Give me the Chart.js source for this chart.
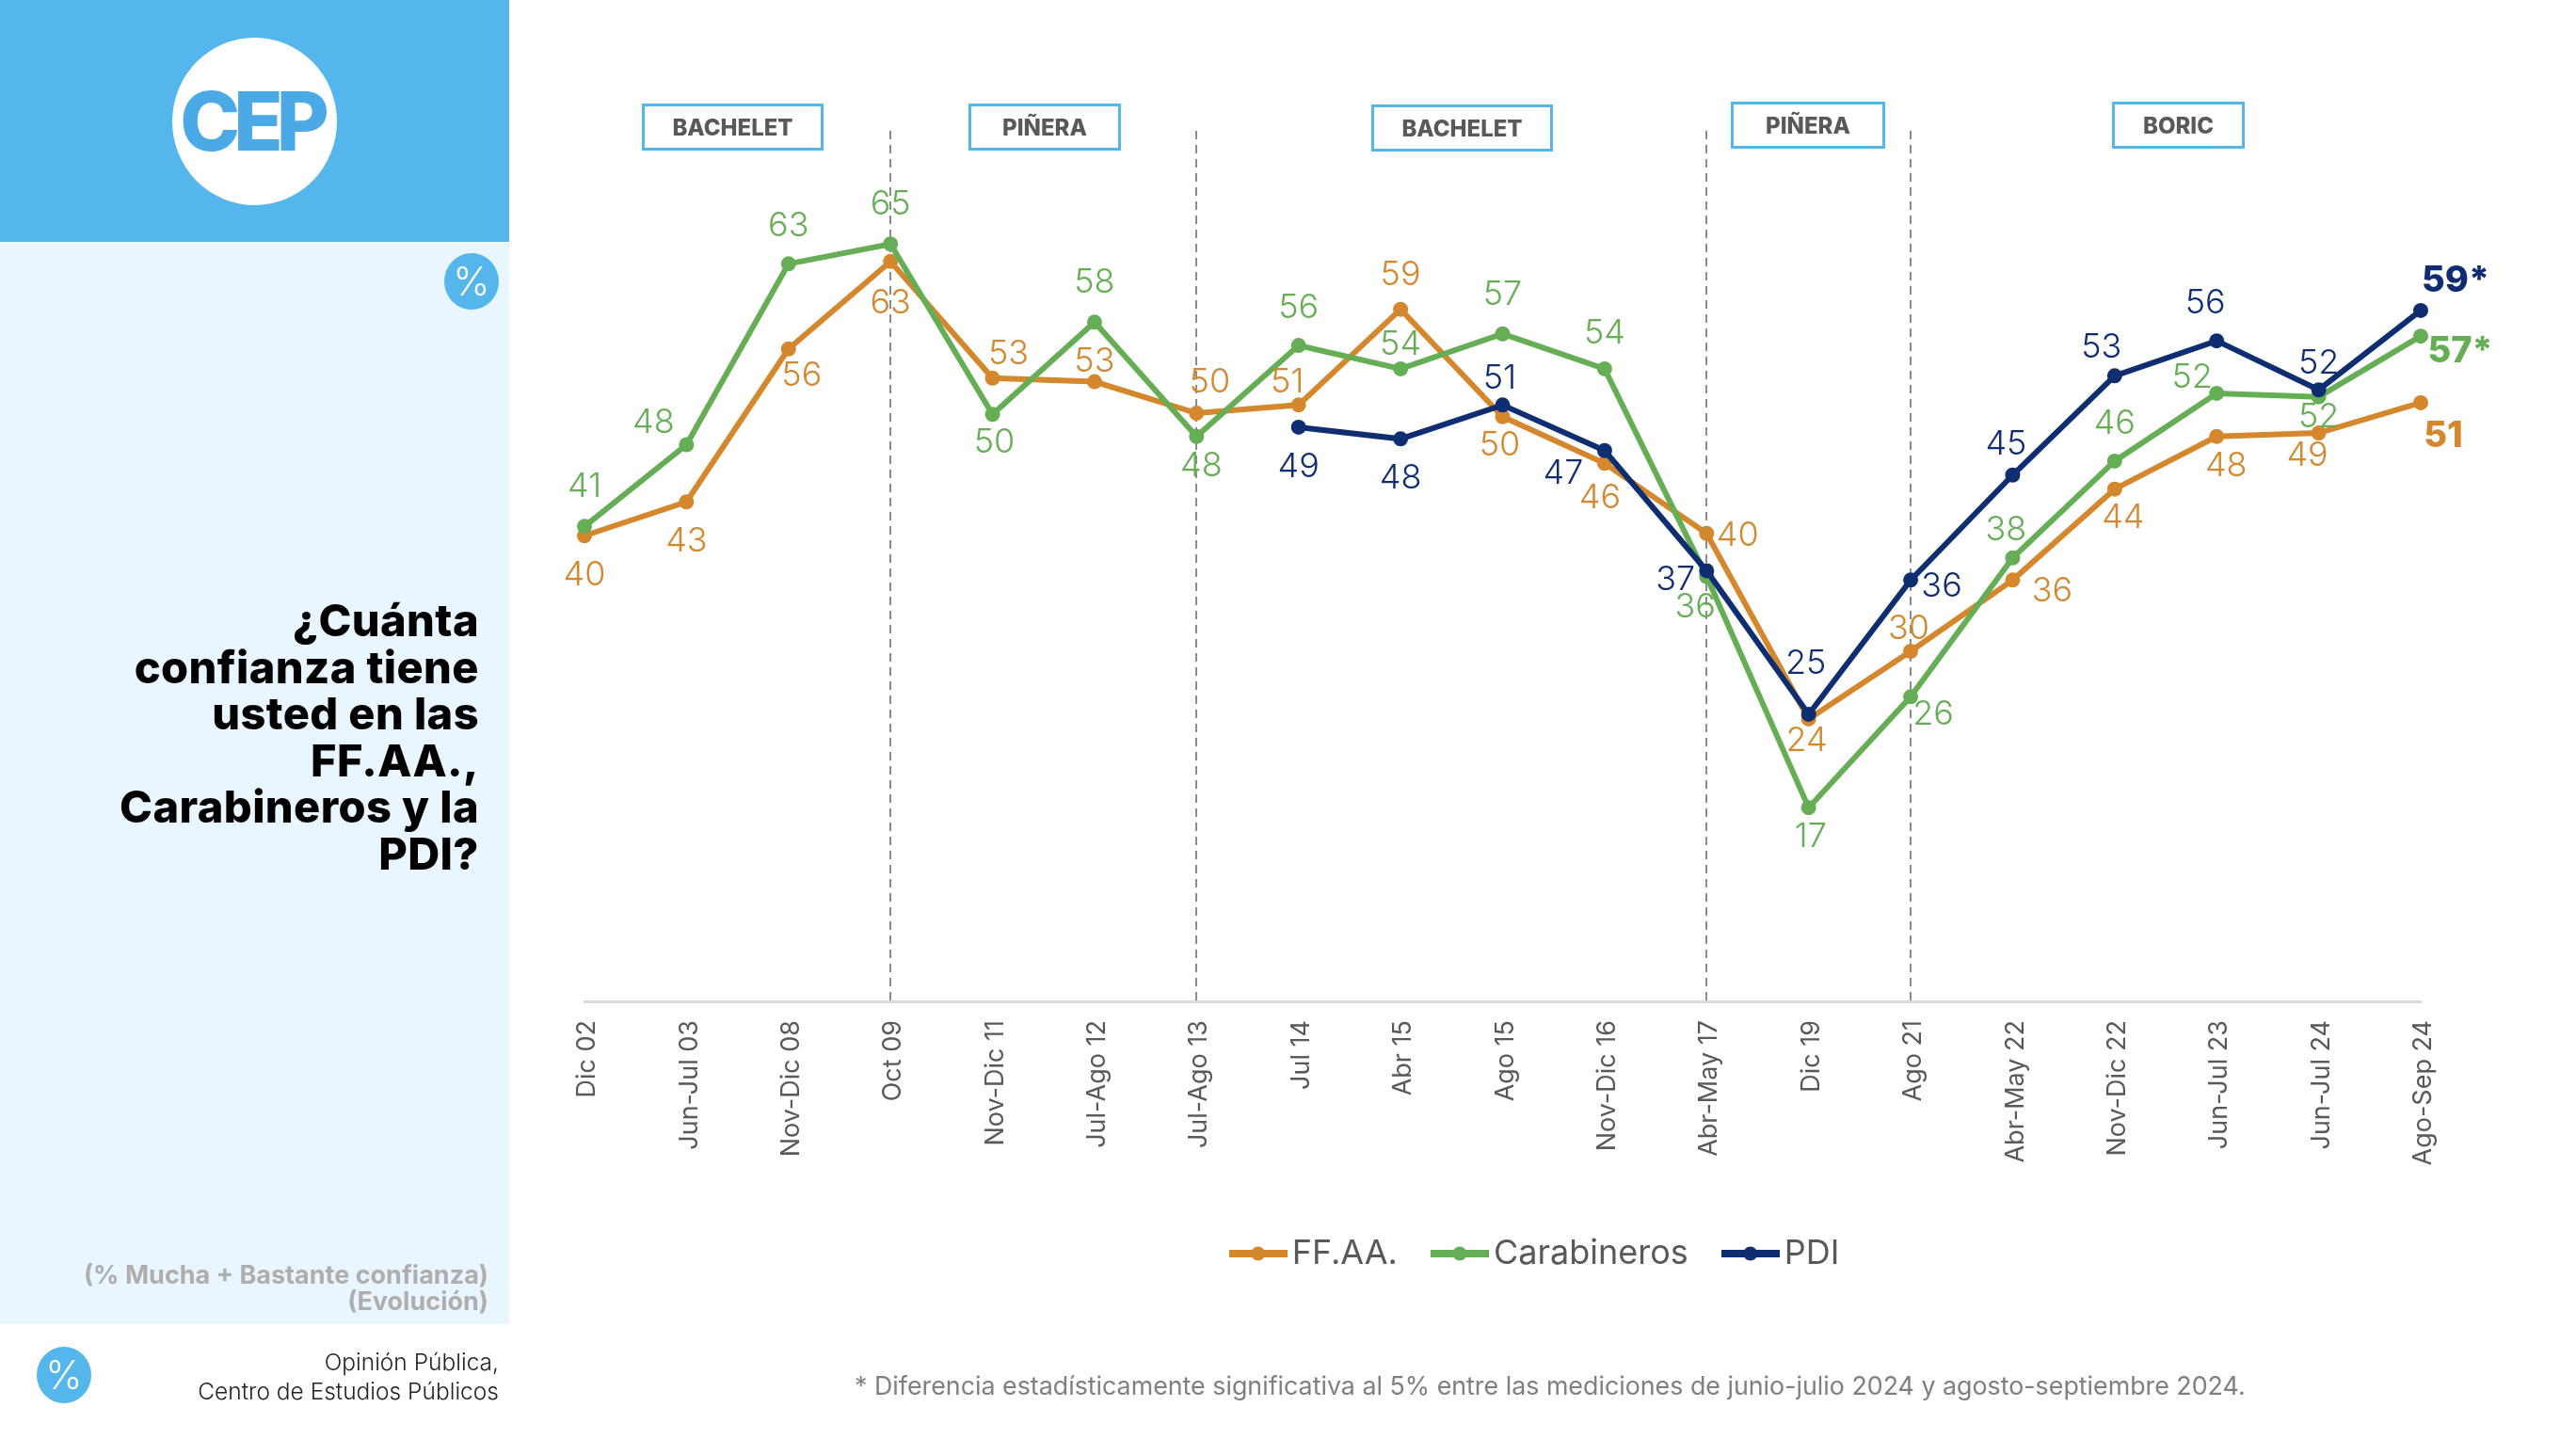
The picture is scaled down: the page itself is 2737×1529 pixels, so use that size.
<!DOCTYPE html>
<html lang="es">
<head>
<meta charset="utf-8">
<title>Confianza en FF.AA., Carabineros y PDI</title>
<script src="https://cdn.jsdelivr.net/npm/chart.js@4"></script>
<style>
html, body { margin: 0; padding: 0; background: #fff; font-family: Inter, sans-serif; }
body { width: 2737px; height: 1529px; position: relative; overflow: hidden; }
#grafico { position: absolute; left: 0; top: 0; }
.abs { position: absolute; }
#cabecera { left: 0; top: 0; width: 541px; height: 257px; background: #54b6eb; }
#panel { left: 0; top: 258px; width: 541px; height: 1149px; background: #eaf6ff; }
#logo { left: 183px; top: 40px; width: 175px; height: 178px; border-radius: 50%; background: #fff; color: #4ba9e6;
  font-weight: 800; font-size: 86px; line-height: 178px; text-align: center; letter-spacing: -7px; text-indent: -7px; }
.pct { border-radius: 50%; background: #54b6eb; color: #fff; font-weight: 300; font-size: 42px; text-align: center; width: 58px; height: 60px; line-height: 60px; }
#titulo { right: 2228px; top: 634px; text-align: right; color: #000; font-weight: 800; font-size: 47px; line-height: 49.6px; letter-spacing: .4px; white-space: nowrap; }
#nota { right: 2218px; top: 1341px; text-align: right; color: #b0adad; font-weight: 700; font-size: 27px; line-height: 28px; white-space: nowrap; }
#fuente { right: 2207px; top: 1432px; text-align: right; color: #222; font-weight: 300; font-size: 24.5px; line-height: 31px; white-space: nowrap; }
#pie { left: 908px; top: 1456px; color: #7f7f7f; font-size: 26.8px; line-height: 32px; white-space: nowrap; }
.periodo { box-sizing: border-box; border: 3px solid #54b6ea; color: #595959; font-weight: 800; font-size: 24px; text-align: center; height: 50px; line-height: 46px; }
</style>
</head>
<body>
<canvas id="grafico" width="2737" height="1529"></canvas>
<div class="abs" id="cabecera"></div>
<div class="abs" id="panel"></div>
<div class="abs" id="logo">CEP</div>
<div class="abs pct" style="left:472px;top:269px">%</div>
<div class="abs pct" style="left:39px;top:1431px">%</div>
<div class="abs" id="titulo">¿Cuánta<br>confianza tiene<br>usted en las<br>FF.AA.,<br>Carabineros y la<br>PDI?</div>
<div class="abs" id="nota">(% Mucha + Bastante confianza)<br>(Evolución)</div>
<div class="abs" id="fuente">Opinión Pública,<br>Centro de Estudios Públicos</div>
<div class="abs" id="pie">* Diferencia estadísticamente significativa al 5% entre las mediciones de junio-julio 2024 y agosto-septiembre 2024.</div>
<div class="abs periodo" style="left:682px;top:110px;width:193px">BACHELET</div>
<div class="abs periodo" style="left:1029px;top:110px;width:162px">PIÑERA</div>
<div class="abs periodo" style="left:1457px;top:111px;width:193px">BACHELET</div>
<div class="abs periodo" style="left:1839px;top:108px;width:164px">PIÑERA</div>
<div class="abs periodo" style="left:2244px;top:108px;width:141px">BORIC</div>

<script>
// Mediciones
const categorias = ['Dic 02', 'Jun-Jul 03', 'Nov-Dic 08', 'Oct 09', 'Nov-Dic 11', 'Jul-Ago 12', 'Jul-Ago 13', 'Jul 14', 'Abr 15', 'Ago 15', 'Nov-Dic 16', 'Abr-May 17', 'Dic 19', 'Ago 21', 'Abr-May 22', 'Nov-Dic 22', 'Jun-Jul 23', 'Jun-Jul 24', 'Ago-Sep 24'];

const ffaa = [39.9, 42.8, 55.9, 63.4, 53.4, 53.1, 50.4, 51.1, 59.3, 50.1, 46.1, 40.1, 24.2, 30.0, 36.1, 43.9, 48.4, 48.7, 51.3];
const carabineros = [40.7, 47.7, 63.2, 64.9, 50.3, 58.2, 48.4, 56.2, 54.2, 57.2, 54.2, 36.4, 16.6, 26.1, 38.0, 46.3, 52.1, 51.8, 57.0];
const pdi = [null, null, null, null, null, null, null, 49.2, 48.2, 51.1, 47.2, 36.9, 24.6, 36.1, 45.1, 53.6, 56.6, 52.4, 59.2];

// Rotulos
const rotulosFfaa = ['40', '43', '56', '63', '53', '53', '50', '51', '59', '50', '46', '40', '24', '30', '36', '44', '48', '49', '51'];
const rotulosCarabineros = ['41', '48', '63', '65', '50', '58', '48', '56', '54', '57', '54', '36', '17', '26', '38', '46', '52', '52', '57*'];
const rotulosPdi = [null, null, null, null, null, null, null, '49', '48', '51', '47', '37', '25', '36', '45', '53', '56', '52', '59*'];

// Desplazamiento de cada rotulo respecto de su punto [dx, dy]
const despFfaa = [[0,42],[0,42],[14,28],[0,44],[17,-26],[0,-21],[14,-33],[-12,-24],[0,-37],[-3,30],[-5,37],[33,2],[-2,23],[-2,-24],[42,12],[9,31],[10,31],[-12,24],[24,36]];
const despCarabineros = [[0,-42],[-35,-23],[0,-40],[0,-42],[2,30],[0,-42],[5,31],[0,-40],[0,-26],[0,-42],[0,-38],[-12,33],[2,31],[24,19],[-7,-30],[0,-40],[-26,-17],[0,21],[42,16]];
const despPdi = [null,null,null,null,null,null,null,[0,42],[0,42],[-3,-28],[-44,24],[-33,10],[-3,-54],[33,7],[-7,-33],[-14,-30],[-12,-40],[0,-28],[37,-31]];

// Cambios de gobierno: lineas punteadas sobre estas categorias
const cambios = ['Oct 09', 'Jul-Ago 13', 'Abr-May 17', 'Ago 21'];

const colores = ['#d4872c', '#66ae55', '#0f2d71'];
const rotulos = [rotulosFfaa, rotulosCarabineros, rotulosPdi];
const desplazamientos = [despFfaa, despCarabineros, despPdi];

// Muestra de la leyenda: linea con punto al centro
function muestra(color) {
    const c = document.createElement('canvas');
    c.width = 62;
    c.height = 16;
    const g = c.getContext('2d');
    g.fillStyle = color;
    g.fillRect(0, 4, 62, 8);
    g.beginPath();
    g.arc(31, 8, 7.5, 0, Math.PI * 2);
    g.fill();
    return c;
}

const lineasCambio = {
    id: 'lineasCambio',
    beforeDatasetsDraw(chart) {
        const { ctx, scales } = chart;
        ctx.save();
        ctx.strokeStyle = '#8c8c8c';
        ctx.lineWidth = 2;
        ctx.setLineDash([9, 6]);
        cambios.forEach(c => {
            const x = Math.round(scales.x.getPixelForValue(categorias.indexOf(c)));
            ctx.beginPath();
            ctx.moveTo(x, scales.y.getPixelForValue(74.6));
            ctx.lineTo(x, scales.y.getPixelForValue(0));
            ctx.stroke();
        });
        ctx.restore();
    }
};

const rotulosDatos = {
    id: 'rotulosDatos',
    afterDatasetsDraw(chart) {
        const { ctx } = chart;
        ctx.save();
        ctx.textAlign = 'center';
        ctx.textBaseline = 'middle';
        rotulos.forEach((lista, d) => {
            const puntos = chart.getDatasetMeta(d).data;
            ctx.fillStyle = colores[d];
            lista.forEach((texto, i) => {
                if (texto === null) return;
                const ultimo = i === lista.length - 1;
                ctx.font = ultimo ? '800 38px Inter' : '300 36px Inter';
                ctx.fillText(texto, puntos[i].x + desplazamientos[d][i][0], puntos[i].y + desplazamientos[d][i][1]);
            });
        });
        ctx.restore();
    }
};

const moverLeyenda = {
    id: 'moverLeyenda',
    afterLayout(chart) {
        chart.legend.left += 40;
        chart.legend.right += 40;
    }
};

function serie(label, data, color, order) {
    return {
        label, data, order,
        borderColor: color,
        backgroundColor: color,
        borderWidth: 6,
        pointRadius: 8,
        pointBorderWidth: 0,
        tension: 0
    };
}

new Chart(document.getElementById('grafico'), {
    type: 'line',
    data: {
        labels: categorias,
        datasets: [
            serie('FF.AA.', ffaa, colores[0], 3),
            serie('Carabineros', carabineros, colores[1], 2),
            serie('PDI', pdi, colores[2], 1)
        ]
    },
    options: {
        responsive: false,
        animation: false,
        devicePixelRatio: 1,
        layout: { padding: { left: 621, right: 165, top: 134, bottom: 169 } },
        scales: {
            x: {
                offset: false,
                afterFit(s) { s.height = 202; },
                grid: { display: false, drawTicks: false },
                border: { color: '#d9d9d9', width: 3 },
                ticks: {
                    autoSkip: false,
                    minRotation: 90,
                    maxRotation: 90,
                    padding: 20,
                    labelOffset: 3,
                    color: '#595959',
                    font: { family: 'Inter', size: 27, weight: '400' }
                }
            },
            y: { display: false, min: 0, max: 75 }
        },
        plugins: {
            tooltip: { enabled: false },
            legend: {
                position: 'bottom',
                labels: {
                    usePointStyle: true,
                    pointStyleWidth: 36,
                    padding: 48,
                    color: '#595959',
                    font: { family: 'Inter', size: 36, weight: '400' },
                    sort: (a, b) => a.datasetIndex - b.datasetIndex,
                    generateLabels(chart) {
                        const items = Chart.defaults.plugins.legend.labels.generateLabels(chart);
                        items.forEach(it => { it.pointStyle = muestra(colores[it.datasetIndex]); });
                        return items;
                    }
                }
            }
        }
    },
    plugins: [lineasCambio, rotulosDatos, moverLeyenda]
});
</script>
</body>
</html>
